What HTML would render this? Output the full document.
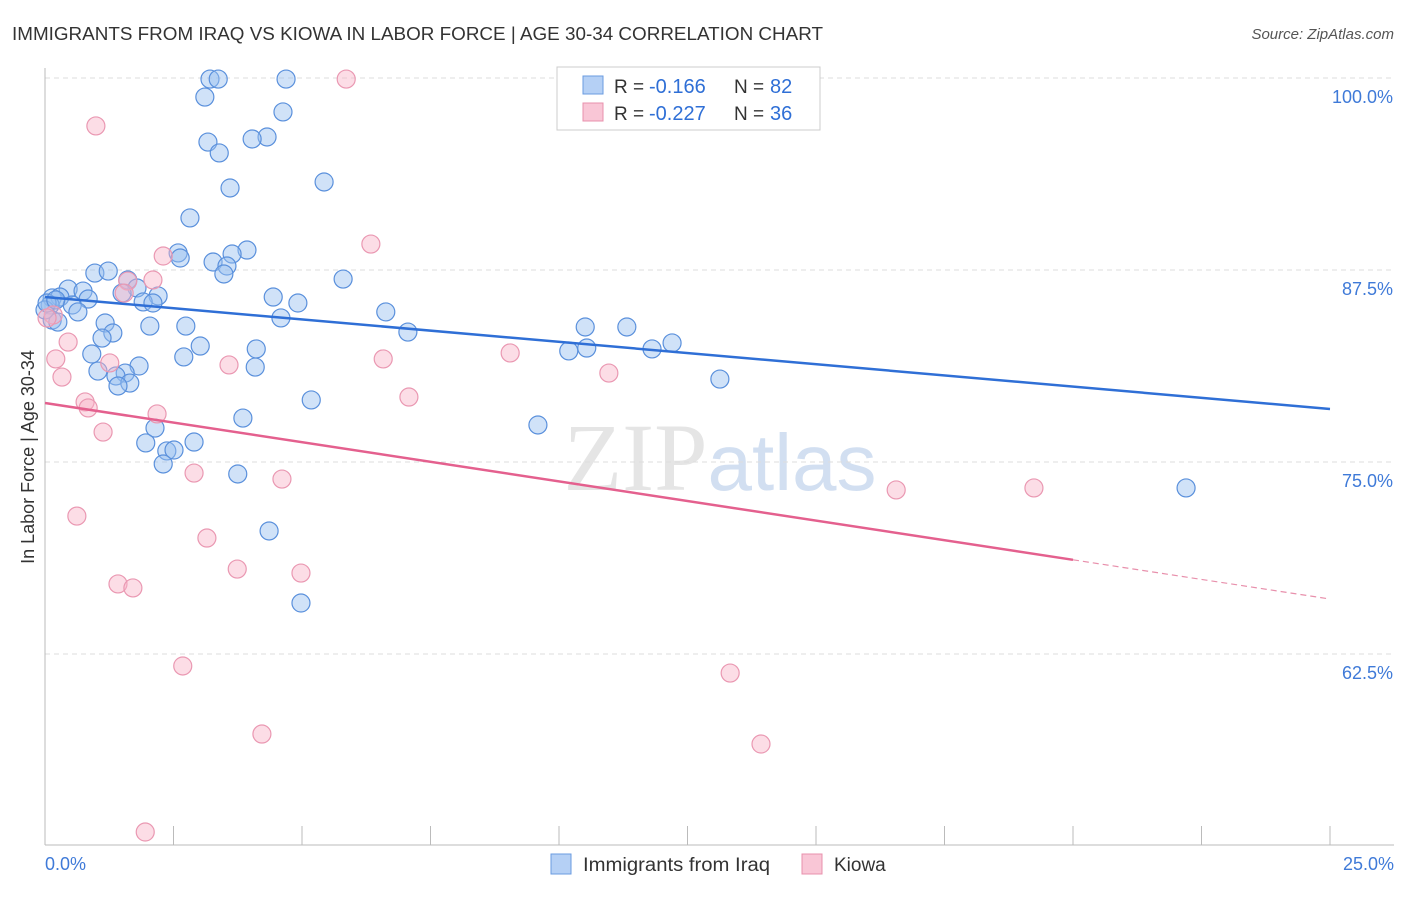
<!DOCTYPE html>
<html><head><meta charset="utf-8"><style>
body{margin:0;background:#fff;font-family:"Liberation Sans",sans-serif;}
#c{position:relative;width:1406px;height:892px;}
</style></head><body>
<div id="c">
<svg id="s" width="1406" height="892" xmlns="http://www.w3.org/2000/svg">
<text x="12" y="40" font-size="18" fill="#333" textLength="811" lengthAdjust="spacingAndGlyphs">IMMIGRANTS FROM IRAQ VS KIOWA IN LABOR FORCE | AGE 30-34 CORRELATION CHART</text>
<text x="1394" y="39" font-size="15" fill="#555" font-style="italic" text-anchor="end">Source: ZipAtlas.com</text>
<text x="720" y="490" font-size="96" fill="#ddd" text-anchor="middle" font-family="Liberation Serif"><tspan fill="#ccc" opacity="0.5">ZIP</tspan><tspan fill="#c8d8ee" opacity="0.8" font-family="Liberation Sans" font-size="80">atlas</tspan></text>
<text transform="translate(34,457) rotate(-90)" font-size="18" fill="#333" text-anchor="middle">In Labor Force | Age 30-34</text>
<g id="grid"></g><g id="pts"></g><g id="lines"></g>
<g>
<rect x="557" y="67" width="263" height="63" fill="#fff" stroke="#ccc"/>
<rect x="583" y="76" width="20" height="18" fill="#b5d0f5" stroke="#6a9be0"/>
<rect x="583" y="103" width="20" height="18" fill="#f9c6d6" stroke="#e890ac"/>
<text x="614" y="93" font-size="19" fill="#333">R =</text>
<text x="649" y="93" font-size="20" fill="#2f6fd6">-0.166</text>
<text x="734" y="93" font-size="19" fill="#333">N =</text>
<text x="770" y="93" font-size="20" fill="#2f6fd6">82</text>
<text x="614" y="120" font-size="19" fill="#333">R =</text>
<text x="649" y="120" font-size="20" fill="#2f6fd6">-0.227</text>
<text x="734" y="120" font-size="19" fill="#333">N =</text>
<text x="770" y="120" font-size="20" fill="#2f6fd6">36</text>
</g>
<g>
<rect x="551" y="854" width="20" height="20" fill="#b5d0f5" stroke="#6a9be0"/>
<text x="583" y="871" font-size="19" fill="#333" textLength="187" lengthAdjust="spacingAndGlyphs">Immigrants from Iraq</text>
<rect x="802" y="854" width="20" height="20" fill="#f9c6d6" stroke="#e890ac"/>
<text x="834" y="871" font-size="19" fill="#333">Kiowa</text>
</g>
</svg></div>
<script>
const yTicks=[100,87.5,75,62.5];
const yTickLabels=["100.0%","87.5%","75.0%","62.5%"];
const xTickVals=[0,2.5,5,7.5,10,12.5,15,17.5,20,22.5,25];
const blueX=[3.21,3.37,4.69,3.11,4.63,3.17,4.32,4.03,3.39,5.43,3.60,2.82,2.59,2.63,3.93,3.64,3.27,3.54,3.48,5.80,0.97,1.23,1.61,1.79,0.45,0.74,1.50,0.14,0.29,0.84,2.20,4.44,4.92,1.91,2.10,0.10,0.53,0.64,0.14,0.25,6.63,4.59,2.04,2.74,1.17,1.32,1.11,7.06,10.51,11.32,3.02,0.91,2.70,4.11,10.19,10.54,11.81,12.20,1.83,4.09,1.03,1.56,1.38,1.65,1.42,13.13,5.18,3.85,2.14,9.59,1.96,2.90,2.37,2.51,2.30,3.75,22.20,4.36,4.98,0.00,0.04,0.21];
const blueY=[99.93,99.93,99.93,98.76,97.79,95.83,96.16,96.03,95.12,93.23,92.84,90.89,88.61,88.28,88.80,88.54,88.02,87.76,87.24,86.91,87.30,87.43,86.85,86.33,86.26,86.13,86.00,85.68,85.74,85.61,85.81,85.74,85.35,85.42,85.35,85.22,85.22,84.77,84.24,84.11,84.77,84.38,83.85,83.85,84.05,83.40,83.07,83.46,83.79,83.79,82.55,82.03,81.84,82.36,82.23,82.42,82.36,82.75,81.25,81.18,80.92,80.79,80.60,80.14,79.95,80.40,79.04,77.86,77.21,77.41,76.24,76.30,75.72,75.78,74.87,74.22,73.31,70.51,65.82,84.90,85.35,85.55];
const pinkX=[5.86,0.99,6.34,2.30,2.10,1.61,1.54,0.16,0.45,0.21,1.26,6.58,9.05,3.58,0.33,10.97,7.08,0.78,0.84,2.18,1.13,2.90,4.61,16.56,19.24,0.62,3.15,3.74,4.98,1.42,1.71,2.68,13.33,4.22,13.93,1.95,0.04];
const pinkY=[99.93,96.88,89.19,88.41,86.85,86.78,86.00,84.57,82.81,81.71,81.45,81.71,82.10,81.32,80.53,80.79,79.23,78.91,78.52,78.13,76.95,74.28,73.89,73.18,73.31,71.48,70.05,68.03,67.77,67.06,66.80,61.72,61.26,57.29,56.64,50.91,84.38];
const blueTrend=[85.74,78.45];
const pinkTrend=[78.84,66.08];
const pinkSolidEnd=20;
const X0=45,X1=1330,Y100=78,PXY=15.36;
const xs=v=>X0+v/25*(X1-X0);
const ys=v=>Y100+(100-v)*PXY;
const NS="http://www.w3.org/2000/svg";
function mk(t,a,p){const e=document.createElementNS(NS,t);for(const k in a)e.setAttribute(k,a[k]);p.appendChild(e);return e;}
const g=document.getElementById('grid');
yTicks.forEach((v,i)=>{
 const l=mk('line',{x1:X0,x2:1394,y1:ys(v),y2:ys(v),stroke:'#ddd','stroke-dasharray':'5,4'},g);
 
 
 const t=mk('text',{x:1393,y:ys(v)+25,'font-size':18,fill:'#3f7ad8','text-anchor':'end'},g);
 t.textContent=yTickLabels[i];
 
 
});
const ax=mk('line',{x1:X0,x2:1394,y1:845,y2:845,stroke:'#bbb'},g);


const ay=mk('line',{x1:X0,x2:X0,y1:68,y2:845,stroke:'#bbb'},g);


xTickVals.forEach(v=>{const t=mk('line',{x1:xs(v),x2:xs(v),y1:826,y2:845,stroke:'#bbb'},g);
 
 });
const xl0=mk('text',{x:45,y:870,'font-size':18,fill:'#3f7ad8'},g);xl0.textContent='0.0%';


const xl1=mk('text',{x:1394,y:870,'font-size':18,fill:'#3f7ad8','text-anchor':'end'},g);xl1.textContent='25.0%';


const P=document.getElementById('pts');
blueX.forEach((v,i)=>{const c=mk('circle',{cx:xs(v),cy:ys(blueY[i]),r:9,fill:'rgba(150,190,240,0.45)',stroke:'#5a90dc','stroke-width':1.2},P);
 
 });
pinkX.forEach((v,i)=>{const c=mk('circle',{cx:xs(v),cy:ys(pinkY[i]),r:9,fill:'rgba(248,180,200,0.45)',stroke:'#ea98b2','stroke-width':1.2},P);
 
 });
const L=document.getElementById('lines');
const bl=mk('line',{x1:xs(0),y1:ys(blueTrend[0]),x2:xs(25),y2:ys(blueTrend[1]),stroke:'#2f6fd6','stroke-width':2.5},L);


const pm=pinkTrend[0]+(pinkTrend[1]-pinkTrend[0])*pinkSolidEnd/25;
const pl=mk('line',{x1:xs(0),y1:ys(pinkTrend[0]),x2:xs(pinkSolidEnd),y2:ys(pm),stroke:'#e4608e','stroke-width':2.5},L);


const pd=mk('line',{x1:xs(pinkSolidEnd),y1:ys(pm),x2:xs(25),y2:ys(pinkTrend[1]),stroke:'#e890ac','stroke-width':1.2,'stroke-dasharray':'6,4'},L);


</script>
</body></html>
